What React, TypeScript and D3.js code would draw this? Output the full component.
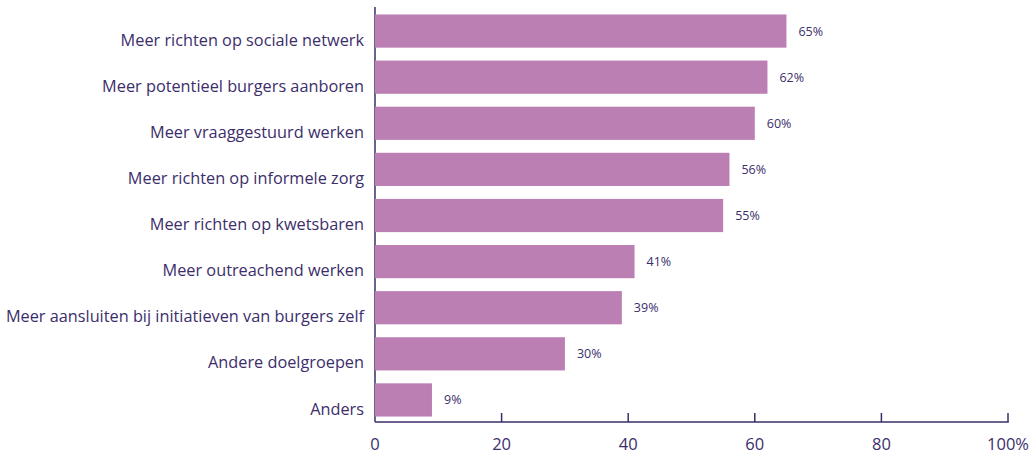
import React from "react";
import * as d3 from "d3";

const categories = [
  "Meer richten op sociale netwerk",
  "Meer potentieel burgers aanboren",
  "Meer vraaggestuurd werken",
  "Meer richten op informele zorg",
  "Meer richten op kwetsbaren",
  "Meer outreachend werken",
  "Meer aansluiten bij initiatieven van burgers zelf",
  "Andere doelgroepen",
  "Anders",
];
const values = [65, 62, 60, 56, 55, 41, 39, 30, 9];
const xTicks = [0, 20, 40, 60, 80, 100];
const xTickLabels = ["0", "20", "40", "60", "80", "100%"];

const W = 1031;
const H = 454;
const TEXT = "#3b2e6b";
const BAR = "#bb7fb4";
const FONT = "'Open Sans', sans-serif";

export default function App() {
  const x = d3.scaleLinear().domain([0, 100]).range([375, 1008]);
  const y = d3
    .scaleBand<string>()
    .domain(categories)
    .range([8, 423])
    .paddingInner(0.28)
    .paddingOuter(0.14);
  const axisY = 422;
  return (
    <svg
      width={W}
      height={H}
      style={{ position: "absolute", left: 0, top: 0 }}
      fontFamily={FONT}
    >
      <line x1={375} x2={375} y1={7} y2={axisY} stroke={TEXT} strokeWidth={1.5} />
      {categories.map((c, i) => (
        <g key={c}>
          <rect
            x={x(0)}
            y={y(c)!}
            width={x(values[i]) - x(0)}
            height={y.bandwidth()}
            fill={BAR}
          />
          <text
            x={364}
            y={y(c)! + y.bandwidth() - 2}
            textAnchor="end"
            fontSize={16.3}
            fill={TEXT}
          >
            {c}
          </text>
          <text
            x={x(values[i]) + 12}
            y={y(c)! + y.bandwidth() / 2 + 4.5}
            fontSize={12.5}
            fill={TEXT}
          >
            {values[i]}%
          </text>
        </g>
      ))}
      <line x1={375} x2={x(100) + 0.75} y1={axisY} y2={axisY} stroke={TEXT} strokeWidth={1.5} />
      {xTicks.map((t, i) => (
        <g key={t}>
          {i > 0 && (
            <line x1={x(t)} x2={x(t)} y1={axisY - 9} y2={axisY} stroke={TEXT} strokeWidth={1.5} />
          )}
          <text x={x(t)} y={450} textAnchor="middle" fontSize={16.5} fill={TEXT}>
            {xTickLabels[i]}
          </text>
        </g>
      ))}
    </svg>
  );
}
